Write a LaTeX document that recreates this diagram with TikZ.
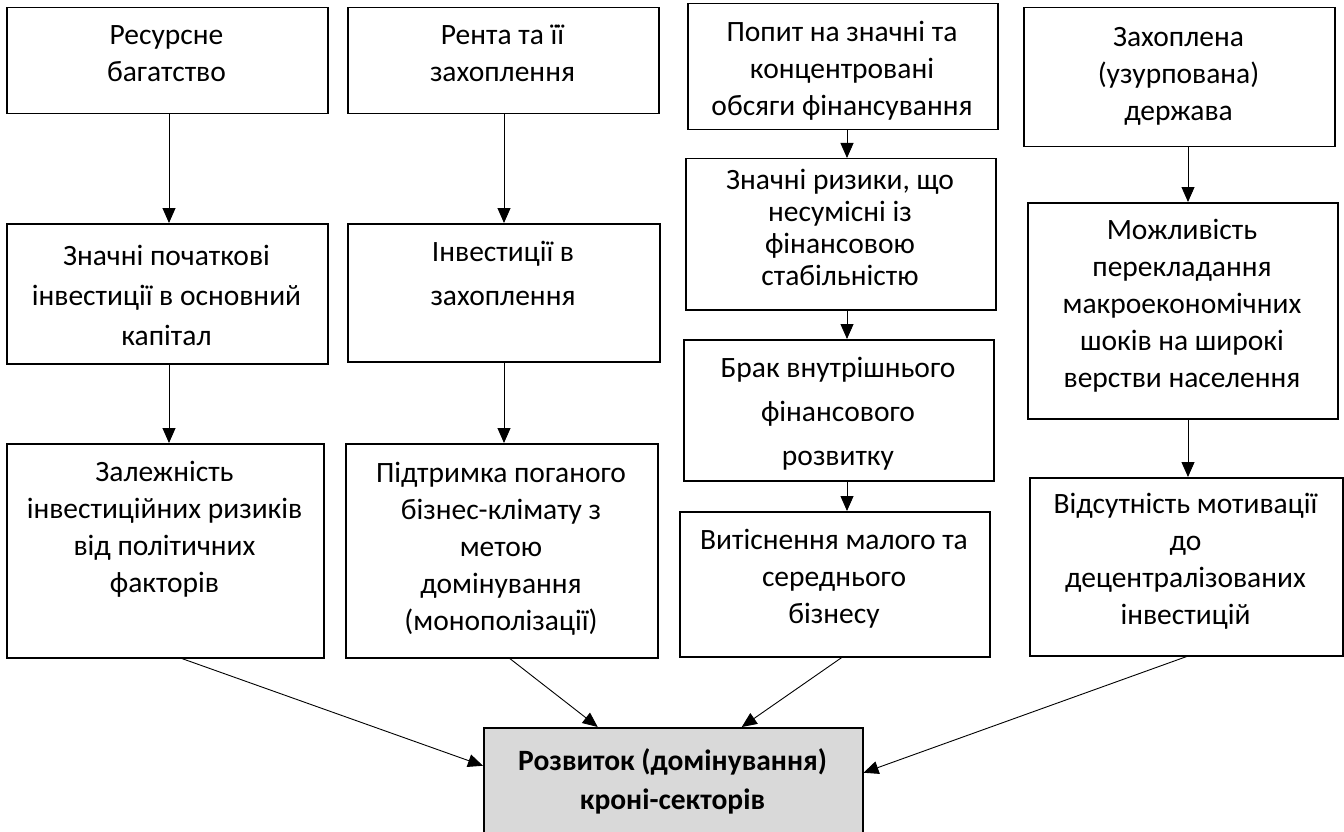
\documentclass[tikz,border=0pt]{standalone}
\usepackage{fontspec}
\setmainfont{Carlito}
\usetikzlibrary{arrows.meta}
\newcommand\myfs[1]{\fontsize{29.5}{#1}\selectfont}
\begin{document}
\begin{tikzpicture}[x=1pt,y=-1pt,
  box/.style={draw=black, line width=1.5pt, fill=white, anchor=north west, inner sep=0pt},
  txt/.style={align=center, inner sep=0pt},
  arr/.style={line width=0.9pt, -{Triangle[length=15pt,width=13pt]}}]
\useasboundingbox (0,0) rectangle (1344,832);
% column 1
\node[box, minimum width=321pt, minimum height=106pt] (a1) at (6,7) {};
\node[txt, font=\myfs{37}] (a1t) at (166.5,55.5) {\strut Ресурсне\\багатство\strut};
\node[box, minimum width=321pt, minimum height=140pt] (a2) at (6,223) {};
\node[txt, font=\myfs{40}] (a2t) at (166.5,297) {\strut Значні початкові\\інвестиції в основний\\капітал\strut};
\node[box, minimum width=317pt, minimum height=214pt] (a3) at (6,443) {};
\node[txt, font=\myfs{37}] (a3t) at (164.5,530) {\strut Залежність\\інвестиційних ризиків\\від політичних\\факторів\strut};
% column 2
\node[box, minimum width=311pt, minimum height=106pt] (b1) at (347,7) {};
\node[txt, font=\myfs{37}] (b1t) at (502.5,55.5) {\strut Рента та її\\захоплення\strut};
\node[box, minimum width=312pt, minimum height=138pt] (b2) at (347,223) {};
\node[txt, font=\myfs{44}] (b2t) at (503,275) {\strut Інвестиції в\\захоплення\strut};
\node[box, minimum width=312pt, minimum height=214pt] (b3) at (345,443) {};
\node[txt, font=\myfs{37}] (b3t) at (501,549) {\strut Підтримка поганого\\бізнес-клімату з\\метою\\домінування\\(монополізації)\strut};
% column 3
\node[box, minimum width=310pt, minimum height=126pt] (c1) at (687,3) {};
\node[txt, font=\myfs{37}] (c1t) at (842,71) {\strut Попит на значні та\\концентровані\\обсяги фінансування\strut};
\node[box, minimum width=310pt, minimum height=151pt] (c2) at (685,158) {};
\node[txt, font=\myfs{32}] (c2t) at (840,231) {\strut Значні ризики, що\\несумісні із\\фінансовою\\стабільністю\strut};
\node[box, minimum width=310pt, minimum height=141pt] (c3) at (683,339) {};
\node[txt, font=\myfs{44}] (c3t) at (838,413) {\strut Брак внутрішнього\\фінансового\\розвитку\strut};
\node[box, minimum width=310pt, minimum height=145pt] (c4) at (679,511) {};
\node[txt, font=\myfs{37}] (c4t) at (834,579) {\strut Витіснення малого та\\середнього\\бізнесу\strut};
% column 4
\node[box, minimum width=311pt, minimum height=139pt] (d1) at (1023,7) {};
\node[txt, font=\myfs{37}] (d1t) at (1178.5,76) {\strut Захоплена\\(узурпована)\\держава\strut};
\node[box, minimum width=310pt, minimum height=216pt] (d2) at (1027,202) {};
\node[txt, font=\myfs{37}] (d2t) at (1182,306) {\strut Можливість\\перекладання\\макроекономічних\\шоків на широкі\\верстви населення\strut};
\node[box, minimum width=313pt, minimum height=178pt] (d3) at (1029,477) {};
\node[txt, font=\myfs{37}] (d3t) at (1185.5,562) {\strut Відсутність мотивації\\до\\децентралізованих\\інвестицій\strut};
% result
\node[box, fill={rgb,255:red,217;green,217;blue,217}, minimum width=379pt, minimum height=110pt] (g) at (483,727) {};
\node[txt, font=\myfs{39}\bfseries] (gt) at (672.5,782) {\strut Розвиток (домінування)\\кроні-секторів\strut};
% connectors
\coordinate (cx) at (847,0);
\coordinate (dx) at (1188,0);
\coordinate (ax) at (169,0);
\coordinate (bx) at (504,0);
\draw[arr] (a1.south -| ax) -- (a2.north -| ax);
\draw[arr] (a2.south -| ax) -- (a3.north -| ax);
\draw[arr] (b1.south -| bx) -- (b2.north -| bx);
\draw[arr] (b2.south -| bx) -- (b3.north -| bx);
\draw[arr] (c1.south -| cx) -- (c2.north -| cx);
\draw[arr] (c2.south -| cx) -- (c3.north -| cx);
\draw[arr] (c3.south -| cx) -- (c4.north -| cx);
\draw[arr] (d1.south -| dx) -- (d2.north -| dx);
\draw[arr] (d2.south -| dx) -- (d3.north -| dx);
\draw[arr] ([xshift=16.5pt]a3.south) -- ([yshift=17pt]g.west);
\draw[arr] ([xshift=8pt]b3.south) -- ([xshift=-75.5pt]g.north);
\draw[arr] ([xshift=7pt]c4.south) -- ([xshift=68.5pt]g.north);
\draw[arr] ([xshift=0.5pt]d3.south) -- ([yshift=10pt]g.east);
\end{tikzpicture}
\end{document}
